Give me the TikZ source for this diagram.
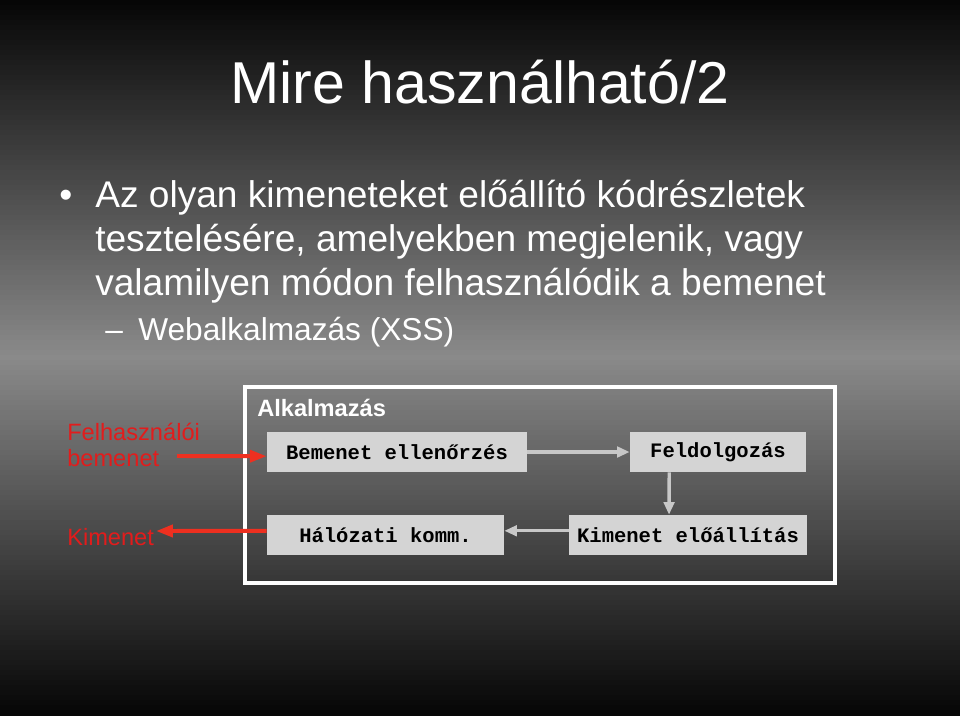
\documentclass[tikz,border=0pt]{standalone}
\usepackage{fontspec}
\setmainfont{Liberation Sans}
\setmonofont{Liberation Mono}
\usetikzlibrary{arrows.meta}

\definecolor{boxgray}{RGB}{212,212,212}
\definecolor{flowgray}{RGB}{200,200,200}
\definecolor{inred}{RGB}{226,28,28}
\definecolor{arrred}{RGB}{238,48,32}
\definecolor{midgray}{RGB}{138,138,138}

\begin{document}
\begin{tikzpicture}[x=0.025cm,y=-0.025cm,
  stepbox/.style={fill=boxgray,minimum height=1cm,inner sep=0pt,
    font=\ttfamily\bfseries\fontsize{14.6}{18}\selectfont},
  flow/.style={draw=flowgray,line width=2.4pt,-{Triangle[length=9pt,width=7.5pt]}},
  redflow/.style={draw=arrred,line width=2.8pt,-{Triangle[length=12pt,width=8.5pt]}},
  slide/.style={text=white,inner sep=0pt,anchor=base west,font=\fontsize{26.4}{31}\selectfont},
  redtext/.style={text=inred,inner sep=0pt,anchor=base west,align=left,
    font=\fontsize{16.8}{18.4}\selectfont}]
% background, in strips
\foreach \i in {0,...,142} {
  \pgfmathsetmacro{\shadepct}{max(0,100*(1-abs(\i*5+2.5-357)/372))}
  \fill[midgray!\shadepct!black] (0,\i*5) rectangle (960,\i*5+5.6);
}
\useasboundingbox (0,0) rectangle (960,715);

% title and bullets
\node[text=white,inner sep=0pt,anchor=base,font=\fontsize{42}{50}\selectfont] (title) at (480,103) {Mire használható/2};
\node[slide] (dot) at (59,207) {•};
\node[slide] (line1) at (95,207) {Az olyan kimeneteket előállító kódrészletek};
\node[slide] (line2) at (95,251) {tesztelésére, amelyekben megjelenik, vagy};
\node[slide] (line3) at (95,295) {valamilyen módon felhasználódik a bemenet};
\node[slide,font=\fontsize{22.5}{27}\selectfont] (dash) at (105,340) {–};
\node[slide,font=\fontsize{22.5}{27}\selectfont] (sub) at (138,340) {Webalkalmazás (XSS)};

% application frame
\draw[white,line width=2.2pt] (245,387) rectangle (835,583);
\node[text=white,inner sep=0pt,anchor=base west,font=\bfseries\fontsize{16.8}{20}\selectfont] (app) at (257,416) {Alkalmazás};

\node[stepbox,minimum width=6.5cm] (check) at (397,452) {Bemenet ellenőrzés};
\node[stepbox,minimum width=4.4cm] (proc) at (718,452) {Feldolgozás};
\node[stepbox,minimum width=5.95cm] (gen) at (688,535) {Kimenet előállítás};
\node[stepbox,minimum width=5.925cm] (net) at (385.5,535) {Hálózati komm.};

\draw[flow] (check) -- (proc);
\draw[flow] ([xshift=-34.7pt]proc.south) -- ([xshift=-13.5pt]gen.north);
\draw[flow] ([yshift=3pt]gen.west) -- ([yshift=3pt]net.east);

% input and output
\node[redtext] (user) at (67,466) {Felhasználói\\bemenet};
\node[redtext] (outtxt) at (67,545) {Kimenet};
\coordinate (inend) at (177,456);
\coordinate (outend) at (156,531);
\draw[redflow] (inend) -- ([yshift=-3pt]check.west);
\draw[redflow] ([yshift=3pt]net.west) -- (outend);
\end{tikzpicture}
\end{document}
